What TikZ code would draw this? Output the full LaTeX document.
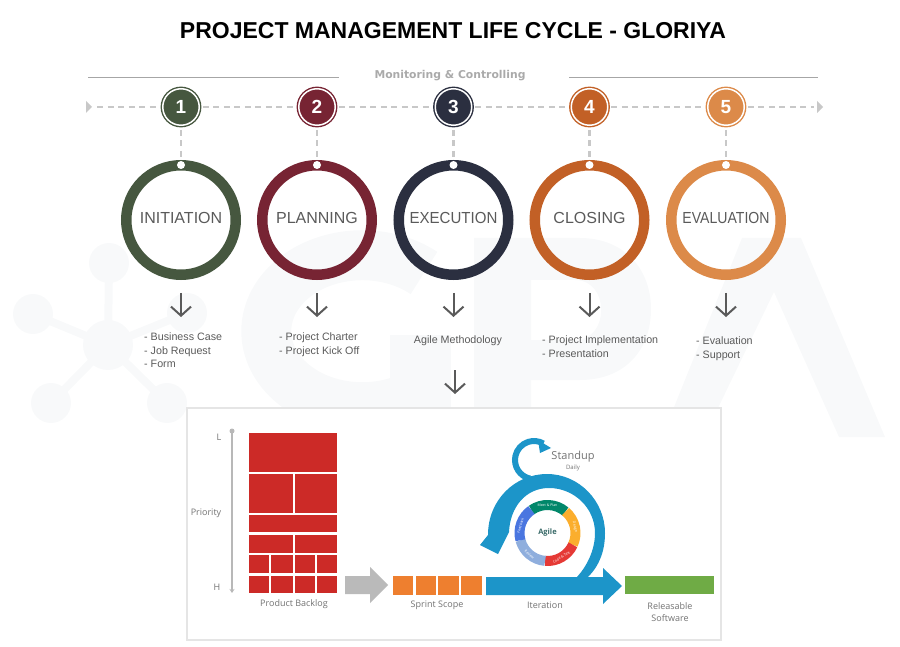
\documentclass[tikz,border=0pt]{standalone}
\usepackage{graphicx}
\usepackage{fontspec}
\setmainfont{Liberation Sans}
\newfontfamily\labelfont{Open Sans}
\newfontfamily\wordfont{DejaVu Sans}
\usetikzlibrary{arrows.meta}
\definecolor{colGreen}{HTML}{46573F}
\definecolor{colMaroon}{HTML}{772433}
\definecolor{colNavy}{HTML}{2B2F40}
\definecolor{colOrange}{HTML}{C26026}
\definecolor{colPeach}{HTML}{DC8A49}
\definecolor{colMark}{HTML}{F8F9FA}
\definecolor{colDash}{HTML}{C8C8C8}
\definecolor{colText}{HTML}{5A5A5A}
\definecolor{colBack}{HTML}{CC2A27}
\definecolor{colSprint}{HTML}{EE7F2F}
\definecolor{colIter}{HTML}{1C95C9}
\definecolor{colSoft}{HTML}{6FAB45}
\tikzset{
  numnode/.style={circle,fill=#1,draw=#1,line width=1.4pt,double=white,double distance=1.5pt,
    minimum size=36.5pt,inner sep=0pt,text=white,font=\bfseries\fontsize{19}{19}\selectfont},
  ringnode/.style={circle,draw=#1,line width=10.5pt,minimum size=109.5pt,inner sep=0pt,text depth=4pt,
    text=colText,font=\fontsize{16}{16}\selectfont},
  dotnode/.style={circle,fill=white,minimum size=8pt,inner sep=0pt},
  listnode/.style={text=colText,align=left,font=\fontsize{10.7}{13.5}\selectfont,inner sep=0pt},
  dashline/.style={colDash,line width=2.6pt,dash pattern=on 6pt off 4.5pt},
  downarrow/.style={colText,line width=2pt,-{Straight Barb[width=20pt,length=9pt,line width=2pt]}},
  boxlabel/.style={text=colText!85,font=\labelfont\fontsize{9}{12.5}\selectfont,align=center,inner sep=0pt}
}
\begin{document}
\begin{tikzpicture}[x=1pt,y=-1pt]
  \useasboundingbox (0,0) rectangle (900,647);
  % watermark
  \foreach \sx/\sy in {109/263,33/314,51/403,167/403,187/313} {
    \draw[colMark,line width=8pt] (108,345) -- (\sx,\sy);
    \fill[colMark] (\sx,\sy) circle (20pt);
  }
  \fill[colMark] (108,345) circle (25pt);
  \draw[colMark,line width=50pt] (348,337) ++(76,-64) arc[start angle=-50,end angle=-310,x radius=96,y radius=76];
  \fill[colMark] (390,335) rectangle (451,420);
  \fill[colMark,even odd rule] (474,437) -- (474,238) -- (580,238) .. controls (625,238) and (651,270) .. (651,309)
    .. controls (651,350) and (625,380) .. (580,380) -- (531,380) -- (531,437) -- cycle
    (531,280) -- (575,280) .. controls (610,280) and (610,340) .. (575,340) -- (531,340) -- cycle;
  \fill[colMark] (662,437) -- (742,238) -- (801,238) -- (885,437) -- (839,437) -- (774,292) -- (704,437) -- cycle;
  % title
  \node (title) at (453,31) {\bfseries\fontsize{23}{23}\selectfont PROJECT MANAGEMENT LIFE CYCLE - GLORIYA};
  \node[text=colDash!85!black,font=\wordfont\bfseries\fontsize{10.8}{11}\selectfont] (monitor) at (450,76) {Monitoring \& Controlling};
  \draw[black!35,line width=.9pt] (88,77) -- (339,77);
  \draw[black!35,line width=.9pt] (569,77) -- (818,77);
  % stages
  \foreach \n/\x/\col/\word in {1/181/colGreen/INITIATION,2/317/colMaroon/PLANNING,3/453.5/colNavy/{\scalebox{.94}[1]{EXECUTION}},4/589.5/colOrange/CLOSING,5/726/colPeach/{\scalebox{.88}[1]{EVALUATION}}} {
    \node[numnode=\col] (num\n) at (\x,107) {\n};
    \node[ringnode=\col] (ring\n) at (\x,220) {\word};
    \node[dotnode] (dot\n) at (\x,165) {};
    \draw[dashline,shorten <=4pt,shorten >=3pt] (num\n) -- (dot\n);
    \coordinate (from\n) at (\x,293);
    \coordinate (to\n) at (\x,317);
    \draw[downarrow] (from\n) -- (to\n);
  }
  \coordinate (lineStart) at (92,107);
  \coordinate (lineEnd) at (817,107);
  \fill[colDash] (lineStart) -- ++(-6,-6) -- ++(0,12) -- cycle;
  \fill[colDash] (lineEnd) -- ++(0,-6) -- ++(6,6) -- ++(-6,6) -- cycle;
  \draw[dashline,shorten <=5pt,shorten >=3pt] (lineStart) -- (num1);
  \foreach \a/\b in {1/2,2/3,3/4,4/5}
    \draw[dashline,shorten <=3pt,shorten >=3pt] (num\a) -- (num\b);
  \draw[dashline,shorten <=3pt,shorten >=3pt] (num5) -- (lineEnd);
  % lists
  \node[listnode,anchor=west] (list1) at (144,350.5) {- Business Case\\- Job Request\\- Form};
  \node[listnode,anchor=west] (list2) at (279,344.5) {- Project Charter\\- Project Kick Off};
  \node[listnode] (list3) at (458,341) {Agile Methodology};
  \node[listnode,anchor=west] (list4) at (542,346.5) {- Project Implementation\\- Presentation};
  \node[listnode,anchor=west] (list5) at (696,348.5) {- Evaluation\\- Support};
  % agile box
  \node[draw=black!10,fill=white,line width=2pt,minimum width=534pt,minimum height=232pt,inner sep=0pt,anchor=north west] (agilebox) at (186,407) {};
  \coordinate (from6) at (455,370);
  \coordinate (to6) at (455,394);
  \draw[downarrow] (from6) -- (to6);
  % backlog
  \foreach \xa/\ya/\xb/\yb in {249/433/337/472,249/474/293/513,295/474/337/513,249/515/337/532,249/535/293/553,295/535/337/553,
    249/555/269/573,271/555/293/573,295/555/315/573,317/555/337/573,249/576/269/593,271/576/293/593,295/576/315/593,317/576/337/593}
    \fill[colBack] (\xa,\ya) rectangle (\xb,\yb);
  \draw[black!28,line width=1.6pt,-{Stealth[length=4pt,width=5pt]}] (232,431) -- (232,593);
  \fill[black!28] (232,431) circle (2.5pt);
  \node[boxlabel] (lowL) at (219,437) {L};
  \node[boxlabel] (highH) at (217,587) {H};
  \node[boxlabel] (priority) at (206,513) {Priority};
  \node[boxlabel] (backlog) at (294,604) {Product Backlog};
  \fill[black!27] (345,576) -- (370,576) -- (370,567) -- (388,585) -- (370,603) -- (370,594) -- (345,594) -- cycle;
  % sprint
  \foreach \xa/\xb in {393/413,416/436,438/459,461/482}
    \fill[colSprint] (\xa,576) rectangle (\xb,595);
  \node[boxlabel] (sprint) at (437,605) {Sprint Scope};
  % iteration
  \fill[colIter] (486,577) -- (603,577) -- (603,568) -- (622,586) -- (603,604) -- (603,595) -- (486,595) -- cycle;
  \fill[colIter] (588,577) .. controls (600,565) and (605,550) .. (605,533)
    .. controls (605,501) and (579,474) .. (547,474)
    .. controls (515,474) and (488,500) .. (488,535) -- (480,545) -- (498,554) -- (509,532)
    .. controls (510,508) and (525,488) .. (549,488)
    .. controls (574,488) and (595,508) .. (595,533)
    .. controls (595,550) and (587,566) .. (577,577) -- cycle;
  \begin{scope}[shift={(534,460)},y=1pt]
    \draw[colIter,line width=6pt] (258:19) arc[start angle=258,end angle=60,radius=19];
  \end{scope}
  \fill[colIter] (538,440) -- (551,448) -- (540,453) -- cycle;
  \node[boxlabel,font=\labelfont\fontsize{11}{12}\selectfont] (standup) at (573,457) {Standup};
  \node[boxlabel,font=\labelfont\fontsize{6}{7}\selectfont] (daily) at (573,468) {Daily};
  \node[boxlabel] (iteration) at (545,605) {Iteration};
  % agile wheel
  \begin{scope}[shift={(547.5,533)},y=1pt]
    \foreach \aa/\ab/\col in {125/50/01876A,50/-25/FBAE2D,-25/-95/E53935,-95/-165/8FAEDD,-165/-235/4A76E0} {
      \definecolor{segCol}{HTML}{\col}
      \draw[segCol,line width=10pt] (\aa:28) arc[start angle=\aa,end angle=\ab,radius=28];
    }
    \foreach \ang/\rot/\word in {90/0/Meet \& Plan,12/-78/Design,-60/30/Code \& Test,-130/-40/Review,165/75/Feedback}
      \node[text=white,rotate=\rot,inner sep=0pt,font=\labelfont\fontsize{3.5}{4}\selectfont] at (\ang:28) {\word};
  \end{scope}
  \node[text=colGreen!70!colIter,inner sep=0pt,font=\labelfont\bfseries\fontsize{7.5}{8}\selectfont] (agile) at (547.5,533) {Agile};
  % software
  \fill[colSoft] (625,576) rectangle (714,594);
  \node[boxlabel] (software) at (670,612) {Releasable\\Software};
\end{tikzpicture}
\end{document}
